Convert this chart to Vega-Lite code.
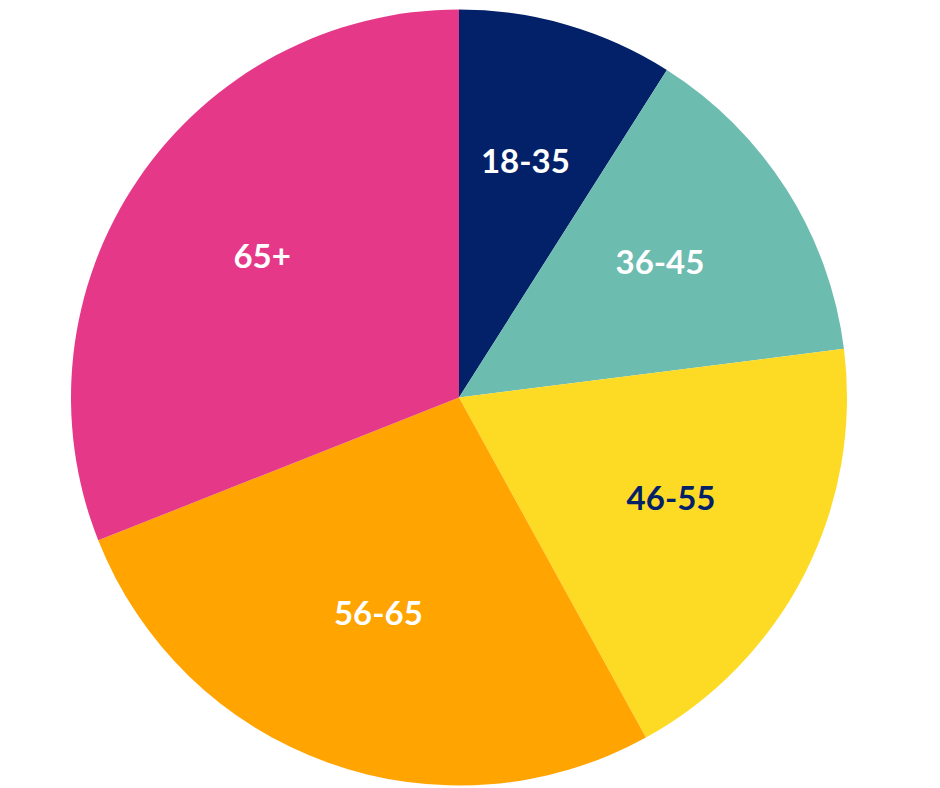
{
  "$schema": "https://vega.github.io/schema/vega-lite/v6.json",
  "autosize": "none",
  "padding": 0,
  "width": 918,
  "height": 795,
  "background": "white",
  "view": {"stroke": null},
  "data": {
    "values": [
      {"age": "18-35", "pct": 9, "order": 1},
      {"age": "36-45", "pct": 14, "order": 2},
      {"age": "46-55", "pct": 19, "order": 3},
      {"age": "56-65", "pct": 27, "order": 4},
      {"age": "65+", "pct": 31, "order": 5}
    ]
  },
  "encoding": {
    "theta": {"field": "pct", "type": "quantitative", "stack": true},
    "order": {"field": "order", "type": "quantitative"}
  },
  "layer": [
    {
      "mark": {"type": "arc", "outerRadius": 388},
      "encoding": {
        "color": {
          "field": "age",
          "type": "nominal",
          "scale": {
            "domain": ["18-35", "36-45", "46-55", "56-65", "65+"],
            "range": ["#032169", "#6DBCB0", "#FDDA24", "#FFA400", "#E53888"]
          },
          "legend": null
        }
      }
    },
    {
      "mark": {"type": "text", "radius": 238, "dy": -6, "font": "Lato", "fontWeight": "bold", "fontSize": 33, "baseline": "middle", "align": "center"},
      "encoding": {
        "text": {"field": "age", "type": "nominal"},
        "color": {
          "field": "age",
          "type": "nominal",
          "scale": {
            "domain": ["18-35", "36-45", "46-55", "56-65", "65+"],
            "range": ["#ffffff", "#ffffff", "#032169", "#ffffff", "#ffffff"]
          },
          "legend": null
        }
      }
    }
  ],
  "resolve": {"scale": {"color": "independent"}}
}
